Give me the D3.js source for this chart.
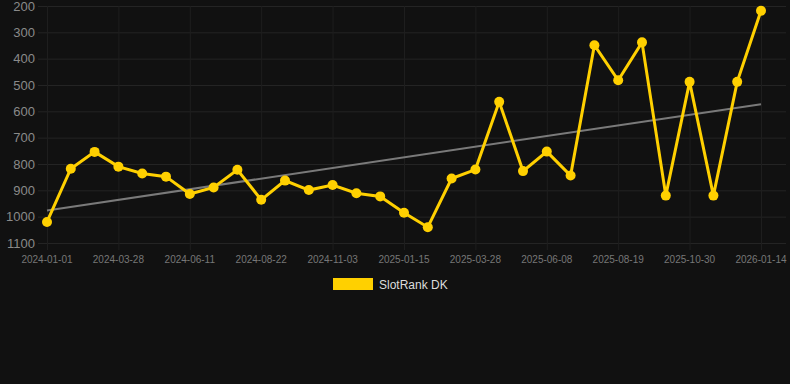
<!DOCTYPE html>
<html>
<head>
<meta charset="utf-8">
<script src="https://cdn.jsdelivr.net/npm/d3@7"></script>
<style>
  html, body { margin: 0; padding: 0; background: #111111; }
  svg { display: block; font-family: "Liberation Sans", Arial, sans-serif; }
</style>
</head>
<body>
<script>
// one point per category, tick label shown on every third one
const dates = [
  "2024-01-01", "2024-01-30", "2024-02-28", "2024-03-28", "2024-04-22", "2024-05-17",
  "2024-06-11", "2024-07-05", "2024-07-29", "2024-08-22", "2024-09-15", "2024-10-09",
  "2024-11-03", "2024-11-27", "2024-12-21", "2025-01-15", "2025-02-08", "2025-03-04",
  "2025-03-28", "2025-04-21", "2025-05-15", "2025-06-08", "2025-07-02", "2025-07-26",
  "2025-08-19", "2025-09-12", "2025-10-06", "2025-10-30", "2025-11-24", "2025-12-19",
  "2026-01-14"
];
const ranks = [
  1020, 818, 754, 810, 836, 848, 914, 889, 822, 936, 863, 899, 880, 911, 923, 985,
  1040, 855, 821, 564, 827, 753, 844, 349, 482, 338, 920, 488, 920, 488, 218
];
const yTicks = [200, 300, 400, 500, 600, 700, 800, 900, 1000, 1100];
const seriesName = "SlotRank DK";

const width = 790, height = 384;
const margin = {top: 6, right: 4, bottom: 141, left: 38};
const gold = "#ffd000";

const svg = d3.select("body").append("svg")
    .attr("width", width)
    .attr("height", height);

let x = d3.scalePoint(dates, [47, 761]);
let y = d3.scaleLinear([200, 1100], [margin.top, height - margin.bottom]);

// horizontal grid + y labels
svg.append("g")
    .attr("stroke", "#242424")
    .selectAll("line")
    .data(yTicks)
    .join("line")
      .attr("x1", margin.left)
      .attr("x2", width - margin.right)
      .attr("y1", d => 0.5 + y(d))
      .attr("y2", d => 0.5 + y(d));

svg.append("g")
    .selectAll("text")
    .data(yTicks)
    .join("text")
      .attr("x", 35)
      .attr("y", d => y(d) + 4.5)
      .attr("text-anchor", "end")
      .attr("fill", "#8a8a8a")
      .attr("font-size", 13)
      .text(d => d);

// vertical grid on every third category
const shown = dates.filter((d, i) => i % 3 === 0);
svg.append("g")
    .attr("stroke", "#1e1e1e")
    .selectAll("line")
    .data(shown)
    .join("line")
      .attr("x1", d => 0.5 + x(d))
      .attr("x2", d => 0.5 + x(d))
      .attr("y1", margin.top)
      .attr("y2", height - margin.bottom + 7);

svg.append("g")
    .selectAll("text")
    .data(shown)
    .join("text")
      .attr("x", d => x(d))
      .attr("y", 263)
      .attr("text-anchor", "middle")
      .attr("fill", "#777")
      .attr("font-size", 10)
      .text(d => d);

// least squares trend over the point index
const n = ranks.length;
const mx = d3.mean(ranks, (d, i) => i);
const my = d3.mean(ranks);
const slope = d3.sum(ranks, (d, i) => (i - mx) * (d - my)) / d3.sum(ranks, (d, i) => (i - mx) * (i - mx));
const trend = [0, n - 1].map(i => [dates[i], my + slope * (i - mx)]);

svg.append("path")
    .datum(trend)
    .attr("fill", "none")
    .attr("stroke", "#7a7a7a")
    .attr("stroke-width", 2)
    .attr("d", d3.line(d => x(d[0]), d => y(d[1])));

const pts = dates.map((d, i) => [d, ranks[i]]);

svg.append("path")
    .datum(pts)
    .attr("fill", "none")
    .attr("stroke", gold)
    .attr("stroke-width", 3)
    .attr("stroke-linejoin", "miter")
    .attr("d", d3.line(d => x(d[0]), d => y(d[1])));

svg.append("g")
    .attr("fill", gold)
    .selectAll("circle")
    .data(pts)
    .join("circle")
      .attr("cx", d => x(d[0]))
      .attr("cy", d => y(d[1]))
      .attr("r", 5);

// legend
const legend = svg.append("g");
legend.append("rect")
    .attr("x", 333).attr("y", 278)
    .attr("width", 40).attr("height", 12)
    .attr("fill", gold);
legend.append("text")
    .attr("x", 379).attr("y", 288.5)
    .attr("fill", "#dddddd")
    .attr("font-size", 12)
    .text(seriesName);
</script>
</body>
</html>
